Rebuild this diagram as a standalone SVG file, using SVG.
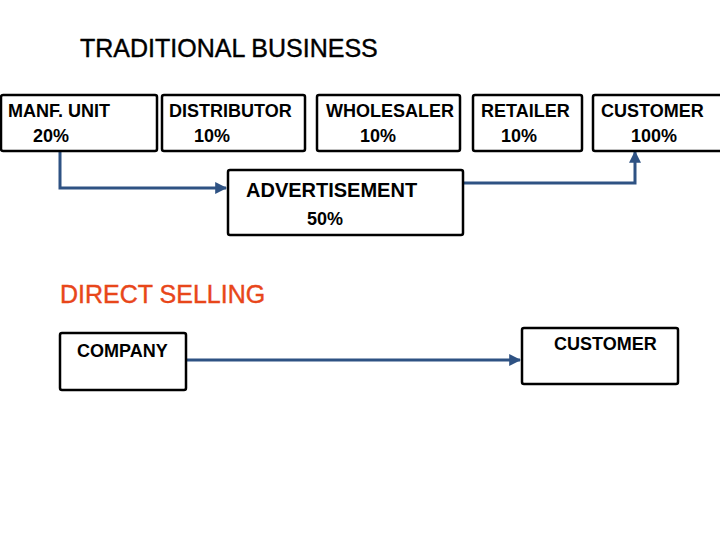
<svg xmlns="http://www.w3.org/2000/svg" width="720" height="540" viewBox="0 0 720 540">
<style>
.box{fill:#fff;stroke:#000;stroke-width:2.5}
.t{font-family:"Liberation Sans",Arial,sans-serif;font-weight:bold;font-size:18px;fill:#000}
.a{font-size:20px}
.h{font-family:"Liberation Sans",Arial,sans-serif;font-size:25px;stroke-width:0.4}
.c{fill:none;stroke:#2E5283;stroke-width:3}
</style>
<defs>
<marker id="ah" viewBox="0 0 10 10" refX="9" refY="5" markerWidth="4" markerHeight="4" orient="auto" markerUnits="strokeWidth">
<path d="M0,0L10,5L0,10z" fill="#2E5283"/>
</marker>
</defs>
<rect width="720" height="540" fill="#fff"/>
<text class="h" x="80" y="57" fill="#000" stroke="#000">TRADITIONAL BUSINESS</text>
<text class="h" x="60" y="303" fill="#E8461A" stroke="#E8461A">DIRECT SELLING</text>
<g id="connectors">
<path class="c" d="M60,151V188H226" marker-end="url(#ah)"/>
<path class="c" d="M464,183H635V152" marker-end="url(#ah)"/>
<path class="c" d="M187,360H520" marker-end="url(#ah)"/>
</g>
<g id="manf"><rect class="box" x="1" y="95" width="156" height="56" rx="2"/><text class="t" x="8" y="117">MANF. UNIT</text><text class="t" x="33" y="142">20%</text></g>
<g id="distributor"><rect class="box" x="162" y="95" width="143" height="56" rx="2"/><text class="t" x="169" y="117">DISTRIBUTOR</text><text class="t" x="194" y="142">10%</text></g>
<g id="wholesaler"><rect class="box" x="317" y="95" width="143" height="56" rx="2"/><text class="t" x="326" y="117">WHOLESALER</text><text class="t" x="360" y="142">10%</text></g>
<g id="retailer"><rect class="box" x="473" y="95" width="109" height="56" rx="2"/><text class="t" x="481" y="117">RETAILER</text><text class="t" x="501" y="142">10%</text></g>
<g id="customer1"><rect class="box" x="593" y="95" width="130" height="56" rx="2"/><text class="t" x="601" y="117">CUSTOMER</text><text class="t" x="631" y="142">100%</text></g>
<g id="advertisement"><rect class="box" x="228" y="170" width="235" height="65" rx="2"/><text class="t a" x="246" y="197">ADVERTISEMENT</text><text class="t" x="307" y="225">50%</text></g>
<g id="company"><rect class="box" x="60" y="333" width="126" height="57" rx="2"/><text class="t" x="77" y="357">COMPANY</text></g>
<g id="customer2"><rect class="box" x="522" y="328" width="156" height="56" rx="2"/><text class="t" x="554" y="350">CUSTOMER</text></g>
</svg>
